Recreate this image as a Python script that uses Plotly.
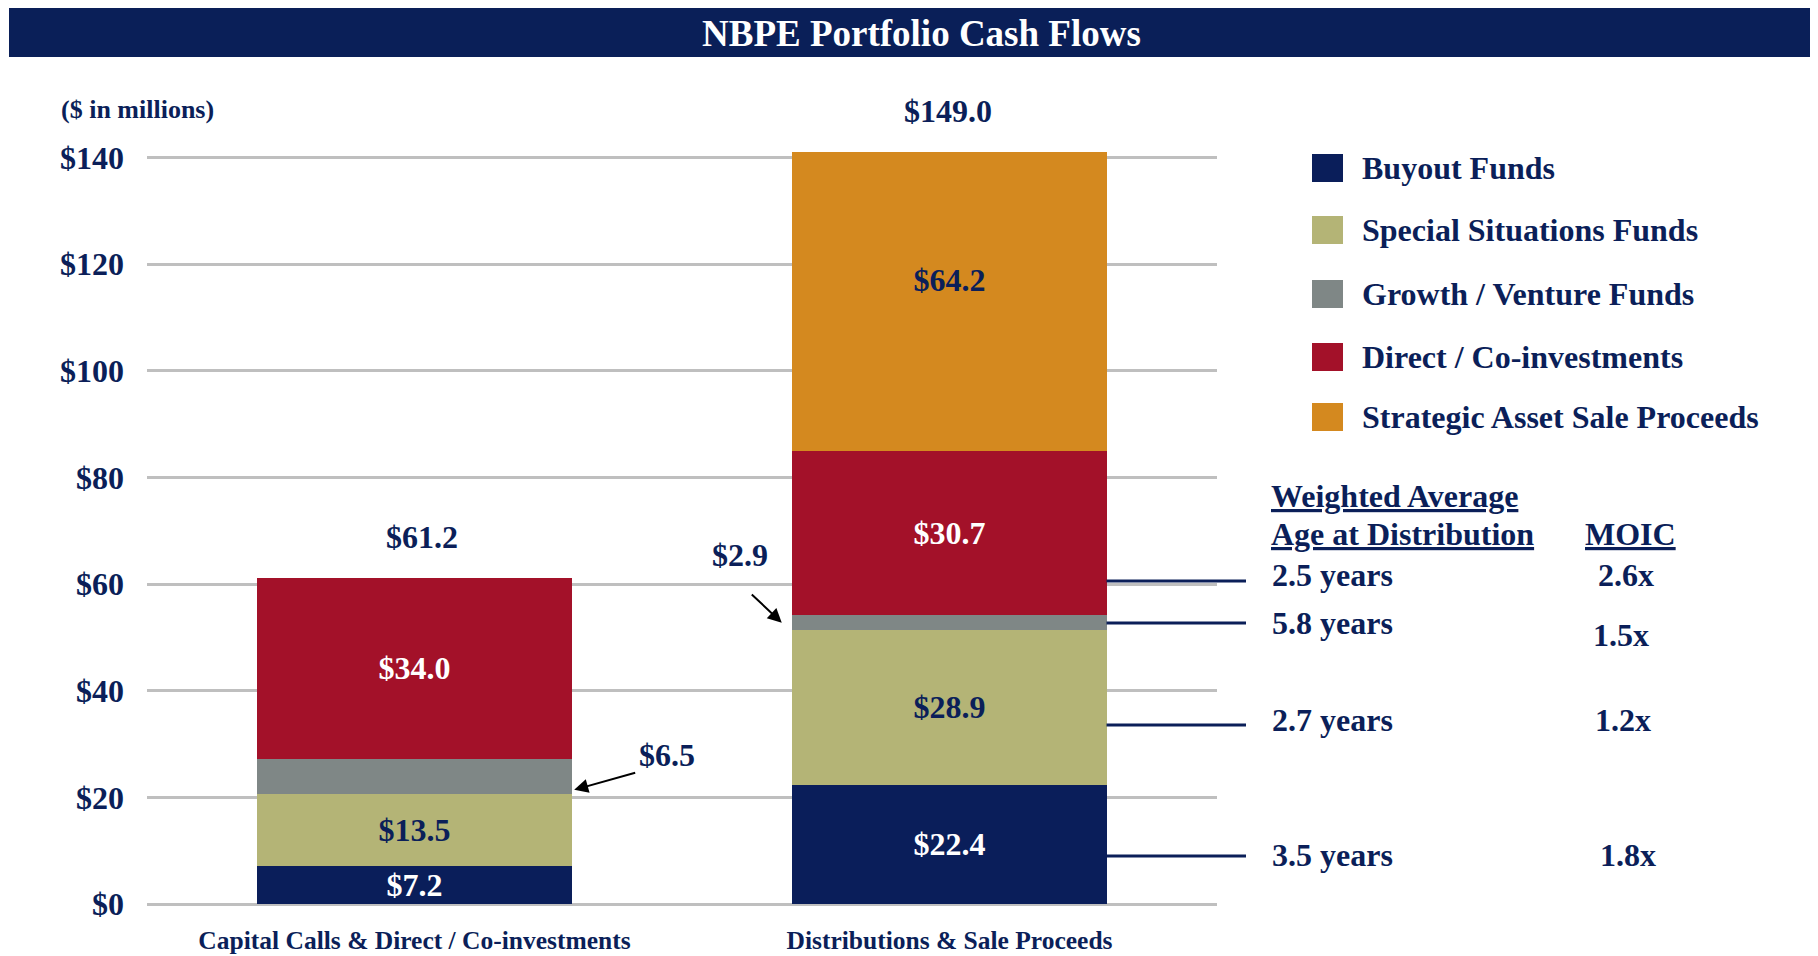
import plotly.graph_objects as go

# ---------------- data ----------------
categories = ["Capital Calls & Direct / Co-investments", "Distributions & Sale Proceeds"]
series_names = ["Buyout Funds", "Special Situations Funds", "Growth / Venture Funds",
                "Direct / Co-investments", "Strategic Asset Sale Proceeds"]
buyout = [7.2, 22.4]
special_situations = [13.5, 28.9]
growth_venture = [6.5, 2.9]
direct_coinv = [34.0, 30.7]
strategic_sale = [None, 64.2]
totals = [61.2, 149.0]
y_tick_values = [0, 20, 40, 60, 80, 100, 120, 140]
y_tick_labels = [f"${v}" for v in y_tick_values]
age_labels = ["2.5 years", "5.8 years", "2.7 years", "3.5 years"]
moic_labels = ["2.6x", "1.5x", "1.2x", "1.8x"]

# ---------------- layout (page pixel geometry) ----------------
PAGE_OFF = 8                     # body margin of the html page
W, H = 1818 - PAGE_OFF, 956 - PAGE_OFF
ML, MT, MB = 147 - PAGE_OFF, 152 - PAGE_OFF, 52
MR = W - (1217 - PAGE_OFF)
PW, PH = W - ML - MR, H - MT - MB
YMAX = 141
BAR_W = 0.587
NAVY = "#0b1f59"
COLORS = ["#0a1e5a", "#b4b476", "#7f8786", "#a31129", "#d4891f"]
TEXT_COLORS = ["white", NAVY, "white", "white", NAVY]
FONT = "Liberation Serif, Times New Roman, serif"
FS = 32


def px_x(px):
    return (px - PAGE_OFF - ML) / PW


def px_y(py):
    return (H - MB - (py - PAGE_OFF)) / PH


def data_x_to_paper(v):
    return (v + 0.5) / 2.0


series = [buyout, special_situations, growth_venture, direct_coinv, strategic_sale]
xpos = list(range(len(categories)))

fig = go.Figure()
for i, (name, vals) in enumerate(zip(series_names, series)):
    show_text = name != "Growth / Venture Funds"
    fig.add_trace(go.Bar(
        name=name, x=xpos, y=vals, width=BAR_W,
        marker=dict(color=COLORS[i], line=dict(width=0)),
        text=[(f"${v:.1f}" if (v is not None and show_text) else "") for v in vals],
        textposition="inside", insidetextanchor="middle", constraintext="none",
        textfont=dict(family=FONT, size=FS, color=TEXT_COLORS[i], weight="bold"),
        showlegend=False, hoverinfo="skip",
    ))

annotations = []
shapes = []


def txt(text, x, y, size=FS, color=NAVY, xanchor="left"):
    return dict(text=text, xref="paper", yref="paper", x=x, y=y, xanchor=xanchor,
                yanchor="middle", showarrow=False,
                font=dict(family=FONT, size=size, color=color, weight="bold"))


# title banner
shapes.append(dict(type="rect", xref="paper", yref="paper",
                   x0=px_x(9), x1=px_x(1818), y0=px_y(57), y1=px_y(8),
                   fillcolor="#0a1f58", line=dict(width=0), layer="below"))
annotations.append(txt("NBPE Portfolio Cash Flows", px_x(921), px_y(33), size=37,
                       color="white", xanchor="center"))
annotations.append(txt("($ in millions)", px_x(59), px_y(110), size=26))

# totals
total_xshift = [7, -2]
for i, t in enumerate(totals):
    annotations.append(dict(text=f"${t:.1f}", x=xpos[i], y=min(t, YMAX), yshift=41,
                            xshift=total_xshift[i],
                            xref="x", yref="y", xanchor="center", yanchor="middle",
                            showarrow=False,
                            font=dict(family=FONT, size=FS, color=NAVY, weight="bold")))

# growth call-outs with arrows
g0_x = xpos[0] + BAR_W / 2 + 0.005
g0_y = buyout[0] + special_situations[0] + 0.7
annotations.append(dict(text=" ", x=g0_x, y=g0_y, xref="x", yref="y",
                        showarrow=True, ax=64, ay=-18, arrowhead=2, arrowsize=1.4,
                        arrowwidth=2, arrowcolor="black"))
annotations.append(dict(text=f"${growth_venture[0]:.1f}", x=g0_x, y=g0_y,
                        xref="x", yref="y", showarrow=False, xshift=93, yshift=35,
                        xanchor="center", yanchor="middle",
                        font=dict(family=FONT, size=FS, color=NAVY, weight="bold")))
g1_x = xpos[1] - BAR_W / 2 - 0.02
g1_y = buyout[1] + special_situations[1] + growth_venture[1] / 2
annotations.append(dict(text=" ", x=g1_x, y=g1_y, xref="x", yref="y",
                        showarrow=True, ax=-33, ay=-31, arrowhead=2, arrowsize=1.4,
                        arrowwidth=2, arrowcolor="black"))
annotations.append(dict(text=f"${growth_venture[1]:.1f}", x=g1_x, y=g1_y,
                        xref="x", yref="y", showarrow=False, xshift=-42, yshift=68,
                        xanchor="center", yanchor="middle",
                        font=dict(family=FONT, size=FS, color=NAVY, weight="bold")))

# custom legend
legend_rows_y = [168, 230, 294, 357, 417]
for i, name in enumerate(series_names):
    cy = legend_rows_y[i]
    shapes.append(dict(type="rect", xref="paper", yref="paper",
                       x0=px_x(1312), x1=px_x(1343), y0=px_y(cy + 14), y1=px_y(cy - 14),
                       fillcolor=COLORS[i], line=dict(width=0)))
    annotations.append(txt(name, px_x(1360), px_y(cy)))

# weighted average table
annotations.append(txt("<u>Weighted Average</u>", px_x(1269), px_y(496)))
annotations.append(txt("<u>Age at Distribution</u>", px_x(1269), px_y(534)))
annotations.append(txt("<u>MOIC</u>", px_x(1583), px_y(534)))

age_rows_y = [575, 623, 720, 855]
moic_rows_y = [575, 635, 720, 855]
moic_cx = [1626, 1621, 1623, 1628]
link_rows_y = [581, 623, 725, 856]
bar_right = data_x_to_paper(xpos[1] + BAR_W / 2)
for i in range(len(age_labels)):
    annotations.append(txt(age_labels[i], px_x(1270), px_y(age_rows_y[i])))
    annotations.append(txt(moic_labels[i], px_x(moic_cx[i]), px_y(moic_rows_y[i]),
                           xanchor="center"))
    shapes.append(dict(type="line", xref="paper", yref="paper",
                       x0=bar_right, x1=px_x(1246),
                       y0=px_y(link_rows_y[i]), y1=px_y(link_rows_y[i]),
                       line=dict(color=NAVY, width=3)))

fig.update_layout(
    width=W, height=H,
    margin=dict(l=ML, r=MR, t=MT, b=MB, autoexpand=False),
    barmode="stack",
    plot_bgcolor="white", paper_bgcolor="white",
    showlegend=False,
    annotations=annotations,
    shapes=shapes,
    xaxis=dict(range=[-0.5, 1.5], tickvals=xpos, ticktext=categories,
               showgrid=False, zeroline=False, showline=False, ticks="",
               ticklabelstandoff=18, fixedrange=True,
               tickfont=dict(family=FONT, size=25.5, color=NAVY, weight="bold")),
    yaxis=dict(range=[0, YMAX], tickvals=y_tick_values, ticktext=y_tick_labels,
               showgrid=True, gridcolor="#bfbfbf", gridwidth=3,
               zeroline=True, zerolinecolor="#bfbfbf", zerolinewidth=3,
               showline=False, ticks="", ticklabelstandoff=22, fixedrange=True,
               tickfont=dict(family=FONT, size=FS, color=NAVY, weight="bold")),
)

fig.write_html("out.html")
